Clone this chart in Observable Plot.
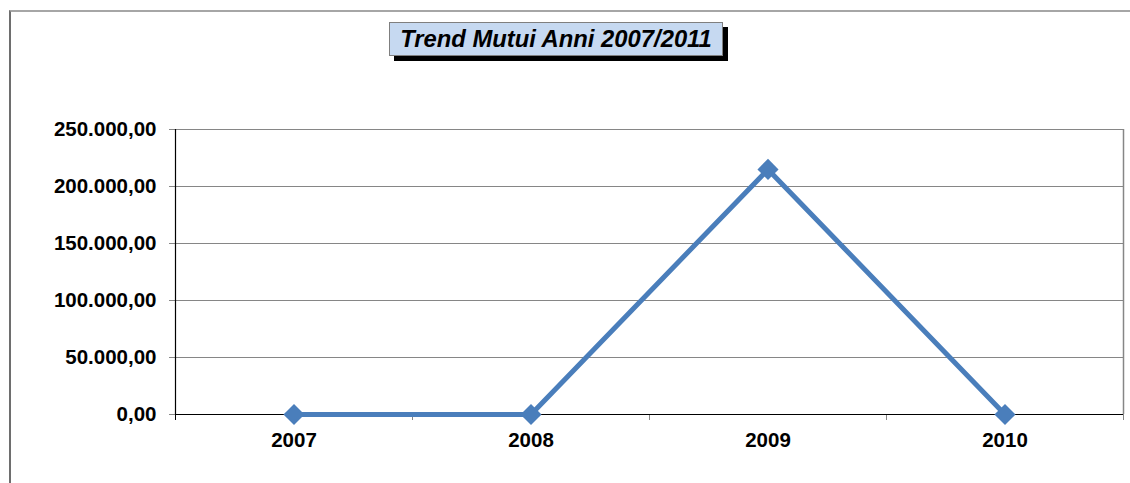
<!DOCTYPE html>
<html>
<head>
<meta charset="utf-8">
<script src="https://cdn.jsdelivr.net/npm/d3@7"></script>
<script src="https://cdn.jsdelivr.net/npm/@observablehq/plot@0.6"></script>
<style>
  html, body { margin: 0; padding: 0; background: #fff; }
  #wrap { position: relative; width: 1130px; height: 483px; overflow: hidden; font-family: "Liberation Sans", Arial, sans-serif; }
  #frame { position: absolute; left: 9px; top: 10px; width: 1200px; height: 600px; border-top: 2px solid #a6a6a6; border-left: 2px solid #6e6e6e; box-sizing: border-box; }
  #title { position: absolute; left: 389px; top: 22px; width: 334px; height: 34px; box-sizing: border-box;
    background: #c6d9f1; border: 1px solid #7f7f7f; box-shadow: 5px 5px 0 #000;
    font: italic bold 23.8px "Liberation Sans", Arial, sans-serif; color: #000;
    display: flex; align-items: center; justify-content: center; }
  #chart { position: absolute; left: 0; top: 0; }
</style>
</head>
<body>
<div id="wrap">
  <div id="frame"></div>
  <div id="chart"></div>
  <div id="title">Trend Mutui Anni 2007/2011</div>
</div>
<script>
const years = [2007, 2008, 2009, 2010];
const values = [0, 0, 215000, 0];
const yTicks = [0, 50000, 100000, 150000, 200000, 250000];
const titleText = "Trend Mutui Anni 2007/2011";

const data = years.map((y, i) => ({year: y, value: values[i]}));
const boundaries = [years[0] - 0.5, ...years.map(y => y + 0.5)];

const itLocale = d3.formatLocale({decimal: ",", thousands: ".", grouping: [3], currency: ["", ""]});
const fmt = itLocale.format(",.2f");

const chart = Plot.plot({
  width: 1130,
  height: 483,
  marginLeft: 175,
  marginRight: 7,
  marginTop: 129,
  marginBottom: 69,
  style: {fontFamily: "Liberation Sans, Arial, sans-serif", background: "transparent", overflow: "visible"},
  x: {type: "linear", domain: [years[0] - 0.5, years[years.length - 1] + 0.5], label: null},
  y: {domain: [0, 250000], label: null},
  marks: [
    Plot.ruleY(yTicks.slice(1), {stroke: "#868686", strokeWidth: 1}),
    Plot.axisY(yTicks, {label: null, tickSize: 6, tickPadding: 13, tickFormat: fmt, fontSize: 20.5, fontWeight: "bold", stroke: "#868686", fill: "#000"}),
    Plot.axisX(boundaries.slice(1), {label: null, tickSize: 6, tickFormat: () => "", stroke: "#868686"}),
    Plot.axisX([boundaries[0]], {label: null, tickSize: 6, tickFormat: () => "", stroke: "#000"}),
    Plot.ruleX([boundaries[boundaries.length - 1]], {stroke: "#868686", strokeWidth: 1.5}),
    Plot.ruleX([boundaries[0]], {stroke: "#000", strokeWidth: 1.2}),
    Plot.ruleY([0], {stroke: "#000", strokeWidth: 1.2}),
    Plot.axisX(years, {label: null, tickSize: 0, tickPadding: 18, tickFormat: d => String(d), fontSize: 20.5, fontWeight: "bold", fill: "#000"}),
    Plot.line(data, {x: "year", y: "value", stroke: "#4a7ebb", strokeWidth: 5}),
    Plot.dot(data, {x: "year", y: "value", symbol: "diamond2", r: 9.5, fill: "#4a7ebb", stroke: "none"})
  ]
});
document.getElementById("chart").appendChild(chart);
document.getElementById("title").textContent = titleText;
</script>
</body>
</html>
